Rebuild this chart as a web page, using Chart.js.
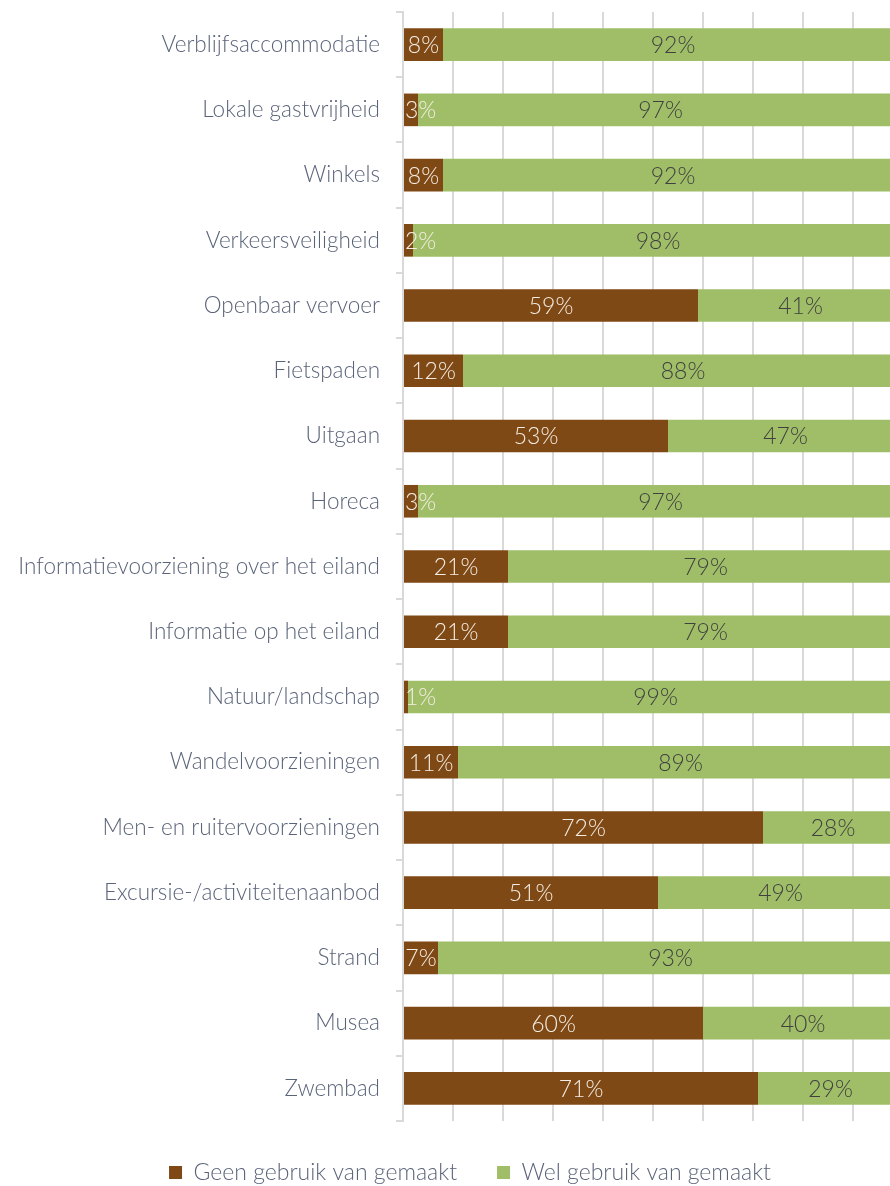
<!DOCTYPE html>
<html>
<head>
<meta charset="utf-8">
<script src="https://cdn.jsdelivr.net/npm/chart.js@4/dist/chart.umd.min.js"></script>
<style>
  body { margin: 0; overflow: hidden; background: #fff; }
  #wrap { width: 940px; height: 1186px; overflow: hidden; }
</style>
</head>
<body>
<div id="wrap"><canvas id="usageChart" width="940" height="1194"></canvas></div>
<script>
const categories = [
  'Verblijfsaccommodatie', 'Lokale gastvrijheid', 'Winkels', 'Verkeersveiligheid',
  'Openbaar vervoer', 'Fietspaden', 'Uitgaan', 'Horeca',
  'Informatievoorziening over het eiland', 'Informatie op het eiland', 'Natuur/landschap',
  'Wandelvoorzieningen', 'Men- en ruitervoorzieningen', 'Excursie-/activiteitenaanbod',
  'Strand', 'Musea', 'Zwembad'
];
const geenGebruik = [8, 3, 8, 2, 59, 12, 53, 3, 21, 21, 1, 11, 72, 51, 7, 60, 71];
const welGebruik = [92, 97, 92, 98, 41, 88, 47, 97, 79, 79, 99, 89, 28, 49, 93, 40, 29];
const seriesNames = ['Geen gebruik van gemaakt', 'Wel gebruik van gemaakt'];

const fontFamily = 'Lato, "Noto Sans", sans-serif';
const textColor = '#5a6479';
const gridColor = '#d9d9d9';

// percentage in the middle of each bar piece, kept from spilling left of the bar start
const barLabels = {
  id: 'barLabels',
  afterLayout(chart) {
    // legend is centred on the whole canvas, not only left of the padding
    chart.legend.right = chart.width;
  },
  afterDatasetsDraw(chart) {
    const ctx = chart.ctx;
    ctx.save();
    ctx.font = '300 23px ' + fontFamily;
    ctx.textAlign = 'center';
    ctx.textBaseline = 'middle';
    chart.data.datasets.forEach((ds, i) => {
      const meta = chart.getDatasetMeta(i);
      ctx.fillStyle = i === 0 ? '#f4ede4' : '#404040';
      meta.data.forEach((bar, j) => {
        const txt = ds.data[j] + '%';
        const w = ctx.measureText(txt).width;
        let x = (bar.x + bar.base) / 2;
        if (x - w / 2 < bar.base + 1) x = bar.base + 1 + w / 2;
        ctx.fillText(txt, x, bar.y + 1);
      });
    });
    ctx.restore();
  }
};

window.addEventListener('load', () => {
  const ctx = document.getElementById('usageChart').getContext('2d');
  new Chart(ctx, {
    type: 'bar',
    data: {
      labels: categories,
      datasets: [
        { label: seriesNames[0], data: geenGebruik, backgroundColor: '#7f4915' },
        { label: seriesNames[1], data: welGebruik, backgroundColor: '#9fbe67' }
      ]
    },
    options: {
      indexAxis: 'y',
      responsive: false,
      animation: false,
      datasets: { bar: { categoryPercentage: 1, barPercentage: 0.5 } },
      layout: { padding: { top: 12, right: 37, left: 0, bottom: 0 } },
      scales: {
        x: {
          stacked: true,
          min: 0,
          max: 100,
          ticks: { display: false, stepSize: 10 },
          grid: { color: gridColor, lineWidth: 2, drawTicks: false },
          border: { display: false }
        },
        y: {
          stacked: true,
          afterFit(scale) {
            scale.width = 403;
            scale.paddingTop = 0;
            scale.paddingBottom = 0;
          },
          ticks: { color: textColor, font: { family: fontFamily, size: 22.5, weight: '300' }, padding: 16 },
          grid: { drawOnChartArea: false, color: gridColor, lineWidth: 2, tickLength: 7 },
          border: { color: gridColor, width: 2 }
        }
      },
      plugins: {
        legend: {
          position: 'bottom',
          labels: {
            color: textColor,
            font: { family: fontFamily, size: 23, weight: '300' },
            boxWidth: 13,
            boxHeight: 13,
            padding: 40
          }
        },
        tooltip: { enabled: false }
      }
    },
    plugins: [barLabels]
  });
});
</script>
</body>
</html>
